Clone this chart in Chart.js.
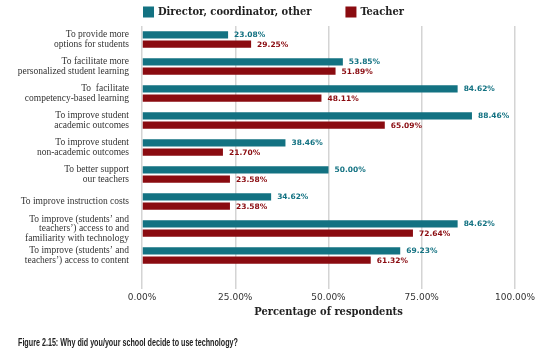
<!DOCTYPE html>
<html>
<head>
<meta charset="utf-8">
<script src="https://cdn.jsdelivr.net/npm/chart.js@4/dist/chart.umd.min.js"></script>
<style>
  html, body { margin: 0; padding: 0; background: #ffffff; }
  #wrap { position: relative; width: 547px; height: 358px; }
  #caption { position: absolute; left: 18px; top: 336px; font-family: "Liberation Sans Narrow", "Liberation Sans", Arial, sans-serif; font-weight: bold; font-size: 10.5px; color: #222; white-space: nowrap; transform-origin: left center; }
</style>
</head>
<body>
<div id="wrap">
  <canvas id="c" width="547" height="358"></canvas>
  <div id="caption">Figure 2.15: Why did you/your school decide to use technology?</div>
</div>
<script>
const categories = [
  ["To provide more", "options for students"],
  ["To facilitate more", "personalized student learning"],
  ["To  facilitate", "competency-based learning"],
  ["To improve student", "academic outcomes"],
  ["To improve student", "non-academic outcomes"],
  ["To better support", "our teachers"],
  "To improve instruction costs",
  ["To improve (students\u2019 and", "teachers\u2019) access to and", "familiarity with technology"],
  ["To improve (students\u2019 and", "teachers\u2019) access to content"]
];
const seriesNames = ["Director, coordinator, other", "Teacher"];
const directorValues = [23.08, 53.85, 84.62, 88.46, 38.46, 50.00, 34.62, 84.62, 69.23];
const teacherValues  = [29.25, 51.89, 48.11, 65.09, 21.70, 23.58, 23.58, 72.64, 61.32];
const xTicks = [0, 25, 50, 75, 100];
const axisTitle = "Percentage of respondents";

const TEAL = "#137282";
const RED = "#8a0b10";

const valueLabels = {
  id: "valueLabels",
  afterDatasetsDraw(chart) {
    const ctx = chart.ctx;
    ctx.save();
    ctx.font = "bold 7.5px 'DejaVu Sans'";
    ctx.textBaseline = "middle";
    ctx.textAlign = "left";
    chart.data.datasets.forEach((ds, i) => {
      const meta = chart.getDatasetMeta(i);
      meta.data.forEach((bar, j) => {
        ctx.fillStyle = ds.backgroundColor;
        ctx.fillText(ds.data[j].toFixed(2) + "%", bar.x + 6, bar.y + 0.5);
      });
    });
    ctx.restore();
  }
};

const customLegend = {
  id: "customLegend",
  afterDraw(chart) {
    const ctx = chart.ctx;
    ctx.save();
    ctx.font = "bold 11px 'DejaVu Serif Condensed', 'DejaVu Serif'";
    ctx.textBaseline = "middle";
    const box = 11, gapText = 4, gapItem = 34;
    const items = chart.data.datasets.map(d => ({ text: d.label, color: d.backgroundColor, w: ctx.measureText(d.label).width }));
    let total = 0;
    items.forEach((it, i) => { total += box + gapText + it.w + (i < items.length - 1 ? gapItem : 0); });
    let x = (chart.width - total) / 2;
    const y = 12;
    items.forEach(it => {
      ctx.fillStyle = it.color;
      ctx.fillRect(x, y - 5.5, box, box);
      ctx.fillStyle = "#222";
      ctx.fillText(it.text, x + box + gapText, y + 0.5);
      x += box + gapText + it.w + gapItem;
    });
    ctx.restore();
  }
};

new Chart(document.getElementById("c"), {
  type: "bar",
  data: {
    labels: categories,
    datasets: [
      { label: seriesNames[0], data: directorValues, backgroundColor: TEAL, categoryPercentage: 0.68, barPercentage: 0.8 },
      { label: seriesNames[1], data: teacherValues, backgroundColor: RED, categoryPercentage: 0.68, barPercentage: 0.8 }
    ]
  },
  options: {
    indexAxis: "y",
    responsive: false,
    animation: false,
    layout: { padding: { top: 26, left: 0, right: 32, bottom: 34 } },
    plugins: { legend: { display: false }, tooltip: { enabled: false } },
    scales: {
      x: {
        min: 0, max: 100,
        afterBuildTicks(scale) { scale.ticks = xTicks.map(v => ({ value: v })); },
        afterFit(scale) { scale.height = 55; },
        grid: { color: "#d4d4d4", lineWidth: 1.5, drawTicks: true, tickLength: 20, tickColor: "#d4d4d4" },
        border: { display: false },
        ticks: {
          padding: 3,
          font: { family: "'DejaVu Sans'", size: 9 },
          color: "#333",
          maxRotation: 0,
          callback: (v) => Number(v).toFixed(2) + "%"
        },
        title: {
          display: true, text: axisTitle,
          font: { family: "'DejaVu Serif Condensed', 'DejaVu Serif'", size: 11, weight: "bold" },
          color: "#222",
          padding: { top: 0, bottom: 5 }
        }
      },
      y: {
        afterFit(scale) { scale.width = 142; },
        grid: { display: false },
        border: { display: false },
        ticks: {
          padding: 5,
          font: { family: "'Liberation Serif'", size: 9.5, lineHeight: 1.0 },
          color: "#333",
          autoSkip: false
        }
      }
    }
  },
  plugins: [valueLabels, customLegend]
});

// fit caption to the reference width
const cap = document.getElementById("caption");
const w = cap.getBoundingClientRect().width;
cap.style.transform = "scaleX(" + (220 / w) + ")";
</script>
</body>
</html>
